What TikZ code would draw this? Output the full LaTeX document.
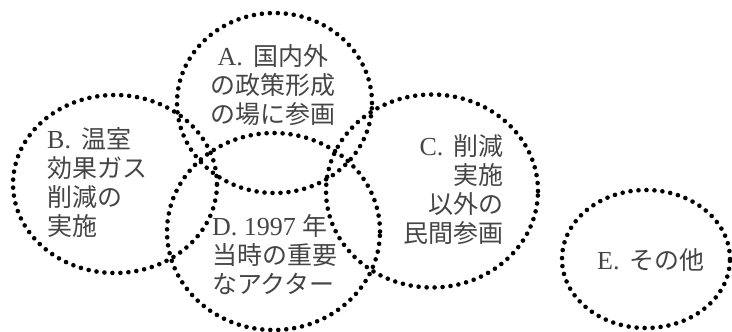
\documentclass[tikz,border=0pt]{standalone}
\usepackage{fontspec}
\setmainfont{Liberation Serif}
\newfontfamily\cjk{Noto Sans CJK JP}[Scale=0.96]
\usetikzlibrary{shapes.geometric}
\definecolor{txt}{HTML}{454545}
\tikzset{
  ring/.style={ellipse, draw=black, line width=4.6pt, line cap=round,
    dash pattern=on 0pt off 8pt, inner sep=0pt},
  lab/.style={text=txt, inner sep=0pt, font=\fontsize{26}{29}\selectfont}
}
\begin{document}
\begin{tikzpicture}[x=1pt,y=-1pt]
\useasboundingbox (0,0) rectangle (732,332);
\node[ring, minimum width=195pt, minimum height=180pt] (A) at (274.5,103) {};
\node[ring, minimum width=204pt, minimum height=178pt] (B) at (115,184) {};
\node[ring, minimum width=212pt, minimum height=193pt] (C) at (432,191) {};
\node[ring, minimum width=213pt, minimum height=197pt] (D) at (273.5,231.5) {};
\node[ring, minimum width=168pt, minimum height=138pt] (E) at (646,259) {};
\node[lab, align=center] (tA) at (273,85) {A.\hspace{0.4em}{\cjk 国内外}\\{\cjk の政策形成}\\{\cjk の場に参画}};
\node[lab, align=left, anchor=west] (tB) at (47,183) {B.\hspace{0.4em}{\cjk 温室}\\{\cjk 効果ガス}\\{\cjk 削減の}\\{\cjk 実施}};
\node[lab, align=right, anchor=east] (tC) at (504,190) {C.\hspace{0.4em}{\cjk 削減}\\{\cjk 実施}\\{\cjk 以外の}\\{\cjk 民間参画}};
\node[lab, align=left, anchor=west] (tD) at (212,255) {D. 1997 {\cjk 年}\\{\cjk 当時の重要}\\{\cjk なアクター}};
\node[lab, anchor=center] (tE) at (651,260) {E.\hspace{0.4em}{\cjk その他}};
\end{tikzpicture}
\end{document}
